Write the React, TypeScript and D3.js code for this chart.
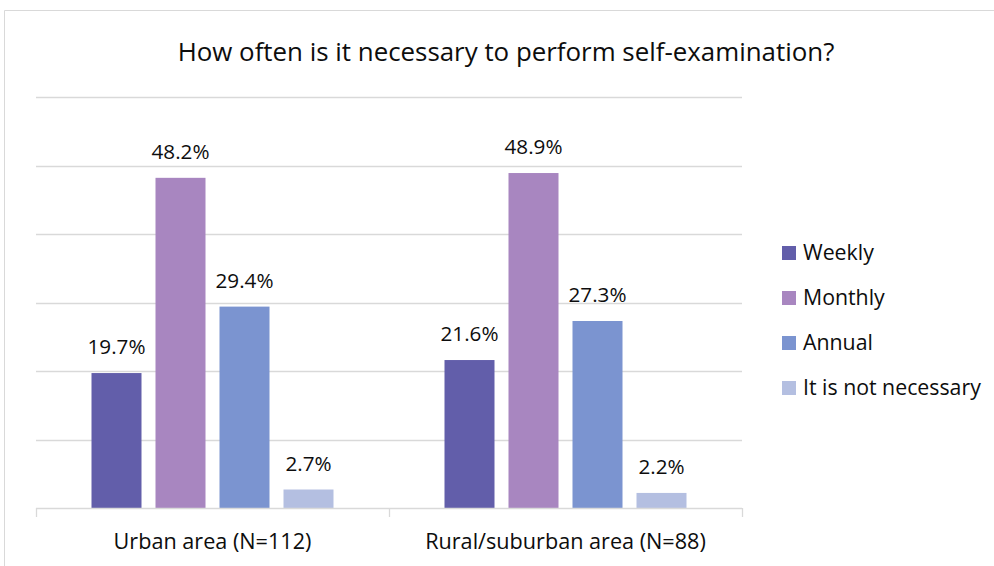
import React, { useEffect, useRef } from "react";
import * as d3 from "d3";

const categories = ["Urban area (N=112)", "Rural/suburban area (N=88)"];
const seriesNames = ["Weekly", "Monthly", "Annual", "It is not necessary"];
const weekly = [19.7, 21.6];
const monthly = [48.2, 48.9];
const annual = [29.4, 27.3];
const notNecessary = [2.7, 2.2];
const colors = ["#625EAA", "#A886C0", "#7B94D0", "#B4BFE1"];
const yTicks = [0, 10, 20, 30, 40, 50, 60];
const title = "How often is it necessary to perform self-examination?";

export default function App() {
  const ref = useRef<SVGSVGElement>(null);
  useEffect(() => {
    const svg = d3.select(ref.current);
    svg.selectAll("*").remove();
    const W = 994, H = 566;
    const font = "'Open Sans', 'Liberation Sans', sans-serif";
    svg.append("rect").attr("width", W).attr("height", H).attr("fill", "#fff");
    svg.append("path").attr("d", `M4.5,${H} V10.5 H${W}`).attr("fill", "none").attr("stroke", "#d9d9d9");

    const fit = (sel: any, target: number, base: number) => {
      const node = sel.node() as SVGTextElement;
      const w = node.getComputedTextLength();
      return w > 0 ? base * target / w : base;
    };

    const left = 36, right = 742, top = 97, bottom = 508;
    const x0 = d3.scaleBand().domain(categories).range([left, right]).paddingInner(0).paddingOuter(0);
    const y = d3.scaleLinear().domain([0, 60]).range([bottom, top]);
    const inner = 242;
    const x1 = d3.scaleBand().domain(seriesNames).range([0, inner]).paddingInner(14 / 64).paddingOuter(0);

    const g = svg.append("g");
    g.selectAll("line.grid").data(yTicks.filter(t => t > 0)).join("line")
      .attr("x1", left).attr("x2", right)
      .attr("y1", d => Math.round(y(d)) + 0.5).attr("y2", d => Math.round(y(d)) + 0.5)
      .attr("stroke", "#d9d9d9").attr("stroke-width", 1.3);

    const t = svg.append("text").attr("x", 506).attr("y", 61).attr("text-anchor", "middle")
      .attr("font-family", font).attr("font-size", 22).attr("fill", "#0d0d0d").text(title);
    t.attr("font-size", fit(t, 657, 22));

    const series = [weekly, monthly, annual, notNecessary];
    const data = categories.flatMap((c, ci) => seriesNames.map((s, si) => ({ c, s, si, v: series[si][ci] })));
    const off = (x0.bandwidth() - inner) / 2;
    const bars = g.selectAll("g.bar").data(data).join("g");
    bars.append("rect")
      .attr("x", d => (x0(d.c) as number) + off + (x1(d.s) as number))
      .attr("width", x1.bandwidth())
      .attr("y", d => y(d.v))
      .attr("height", d => y(0) - y(d.v))
      .attr("fill", d => colors[d.si]);
    const vl = bars.append("text")
      .attr("x", d => (x0(d.c) as number) + off + (x1(d.s) as number) + x1.bandwidth() / 2)
      .attr("y", d => y(d.v) - 19)
      .attr("text-anchor", "middle").attr("font-family", font).attr("font-size", 18).attr("fill", "#0d0d0d")
      .text(d => d.v.toFixed(1) + "%");
    const vfs = fit(d3.select(vl.nodes()[1]), 58, 18);
    vl.attr("font-size", vfs);

    // baseline and ticks
    g.append("line").attr("x1", left).attr("x2", right).attr("y1", bottom + 0.5).attr("y2", bottom + 0.5)
      .attr("stroke", "#d9d9d9").attr("stroke-width", 1.3);
    const tickXs = [left, ...categories.map(c => (x0(c) as number) + x0.bandwidth())];
    g.selectAll("line.tick").data(tickXs).join("line")
      .attr("x1", d => d + 0.5).attr("x2", d => d + 0.5).attr("y1", bottom).attr("y2", bottom + 9)
      .attr("stroke", "#d9d9d9").attr("stroke-width", 1.3);
    const cl = g.selectAll("text.cat").data(categories).join("text")
      .attr("x", d => (x0(d) as number) + x0.bandwidth() / 2).attr("y", 549)
      .attr("text-anchor", "middle").attr("font-family", font).attr("font-size", 18).attr("fill", "#0d0d0d")
      .text(d => d);
    cl.attr("font-size", fit(d3.select(cl.nodes()[0]), 198, 18));

    // legend
    const lg = svg.append("g").selectAll("g").data(seriesNames).join("g")
      .attr("transform", (d, i) => `translate(782,${253 + i * 45})`);
    lg.append("rect").attr("x", 0).attr("y", -7).attr("width", 14).attr("height", 14).attr("fill", (d, i) => colors[i]);
    const lt = lg.append("text").attr("x", 21).attr("y", 7).attr("font-family", font).attr("font-size", 19).attr("fill", "#0d0d0d").text(d => d);
    lt.attr("font-size", fit(d3.select(lt.nodes()[3]), 178, 19));
  }, []);
  return <svg ref={ref} width={994} height={566} style={{ position: "absolute", left: 0, top: 0 }} />;
}
